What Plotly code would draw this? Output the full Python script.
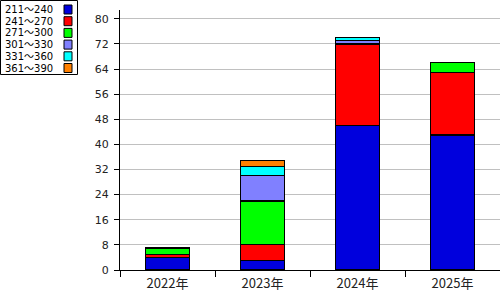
import plotly.graph_objects as go

years = ["2022年", "2023年", "2024年", "2025年"]
series_names = ["211～240", "241～270", "271～300", "301～330", "331～360", "361～390"]
colors = ["#0000DD", "#FF0000", "#00FF00", "#8080FF", "#00FFFF", "#FF8000"]
s211 = [4, 3, 46, 43]
s241 = [1, 5, 26, 20]
s271 = [2, 14, 0, 3]
s301 = [0, 8, 1, 0]
s331 = [0, 3, 1, 0]
s361 = [0, 2, 0, 0]
values = [s211, s241, s271, s301, s331, s361]
y_ticks = [0, 8, 16, 24, 32, 40, 48, 56, 64, 72, 80]

W, H = 500, 300
L, R, T, B = 120, 0, 10, 30
pw, ph = W - L - R, H - T - B

def px(x):
    return (x - L) / pw

def py(y):
    return (H - B - y) / ph

fig = go.Figure()
for name, col, vals in zip(series_names, colors, values):
    fig.add_trace(go.Bar(x=years, y=vals, name=name, marker=dict(color=col, line=dict(color="black", width=1.2)),
                         width=0.47, showlegend=False))

font = "DejaVu Sans, Noto Sans CJK JP, sans-serif"
fig.update_layout(
    width=W, height=H, barmode="stack",
    margin=dict(l=L, r=R, t=T, b=B, pad=0),
    paper_bgcolor="white", plot_bgcolor="white",
    font=dict(family=font, size=12, color="#222"),
    xaxis=dict(showline=True, linecolor="black", linewidth=1.2, ticks="outside", tickson="boundaries",
               ticklen=6, tickcolor="black", tickwidth=1.2, showgrid=False,
               tickfont=dict(size=13, family="Noto Sans CJK JP, sans-serif"), ticklabelstandoff=1),
    yaxis=dict(range=[0, 82.8], tickvals=y_ticks, showline=True, linecolor="black", linewidth=1.2,
               ticks="outside", ticklen=5, tickcolor="black", tickwidth=1.2, showgrid=True,
               gridcolor="#C0C0C0", gridwidth=1, zeroline=False, tickfont=dict(size=11), ticklabelstandoff=3),
)

# manual legend box: text on left, swatch on right
row0, step = 9.5, 11.7
n = len(series_names)
box_bottom = row0 + (n - 1) * step + 6.5
shapes = [dict(type="rect", xref="paper", yref="paper", x0=px(0.5), x1=px(77.5), y0=py(0.5), y1=py(box_bottom),
               line=dict(color="black", width=1), fillcolor="white", layer="above")]
annotations = []
for i, (name, col) in enumerate(zip(series_names, colors)):
    yc = row0 + i * step
    annotations.append(dict(xref="paper", yref="paper", x=px(4), y=py(yc), text=name, showarrow=False,
                            xanchor="left", yanchor="middle", borderpad=0,
                            font=dict(size=10, color="black", family=font)))
    shapes.append(dict(type="rect", xref="paper", yref="paper", x0=px(64), x1=px(72), y0=py(yc - 4.5), y1=py(yc + 4.5),
                       fillcolor=col, line=dict(color="black", width=1), layer="above"))
fig.update_layout(shapes=shapes, annotations=annotations)

fig.write_html("out.html")
